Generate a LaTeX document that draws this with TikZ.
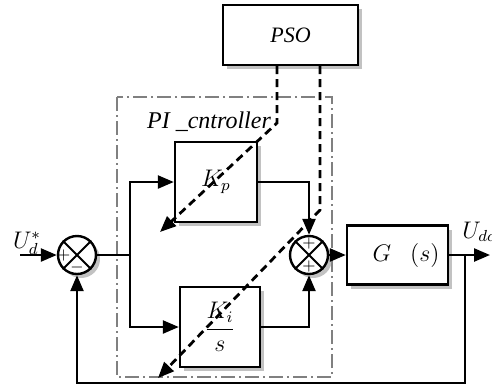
\documentclass[tikz,border=0pt]{standalone}
\usepackage{amsmath}
\usepackage{fontspec}
\setmainfont{Liberation Serif}
\usetikzlibrary{arrows.meta,positioning,shadows,calc}

\begin{document}
\begin{tikzpicture}[
    x=0.5pt, y=-0.5pt,
    block/.style={draw, line width=1.2pt, fill=white, minimum width=#1, drop shadow={shadow xshift=2pt, shadow yshift=-2pt, fill=gray!80, opacity=0.6}},
    block/.default=40pt,
    summer/.style={draw, circle, line width=1.2pt, fill=white, minimum size=19pt, inner sep=0pt, drop shadow={shadow xshift=2pt, shadow yshift=-2pt, fill=gray!80, opacity=0.6}},
    sign/.style={font=\footnotesize, inner sep=0pt},
    arrow/.style={-{Triangle[length=8pt, width=6.5pt]}, line width=1.2pt},
    ctrl/.style={-{Triangle[length=8pt, width=6.5pt]}, line width=1.4pt, dash pattern=on 4pt off 2.5pt},
    frame/.style={gray, line width=0.8pt, dash pattern=on 7pt off 2pt on 1pt off 2pt},
]
\useasboundingbox (0,0) rectangle (492,387);

% controller frame
\draw[frame] (117,97) rectangle (332,377);
\node[font=\large\itshape] (lbl) at (209,122) {PI \_cntroller};

\node[block=67.5pt, minimum height=30pt, font=\fontsize{11}{13}\selectfont\itshape] (pso) at (290.5,35) {PSO};
\node[block=41pt, minimum height=40pt] (kp) at (216,182) {\large $K_p$};
\node[block=40pt, minimum height=40pt] (ki) at (220,327) {\large $\dfrac{K_i}{s}$};
\node[block=50.5pt, minimum height=29.5pt, text width=42pt, align=right] (g) at (397.5,255) {\large $G\;\;(s)$};

\node[summer] (s1) at (77,255) {};
\node[summer] (s2) at (309,255) {};
\foreach \s in {s1,s2}
    \draw[line width=1pt] (\s.45) -- (\s.225) (\s.135) -- (\s.315);
\node[sign] at ([xshift=3.5pt]s1.west) {$+$};
\node[sign] at ([yshift=4pt]s1.south) {$-$};
\node[sign] at ([yshift=-4.5pt]s2.north) {$+$};
\node[sign] at ([yshift=4.5pt]s2.south) {$+$};

\coordinate (uin) at (20,255);
\coordinate (split) at (130,255);
\coordinate (out) at (465,255);
\coordinate (uout) at (490,255);
\coordinate (bot) at (0,383);
\node (ustar) at (27,243) {\large $U_d^*$};
\node[anchor=south west, inner sep=0pt] (udc) at (462,242) {\large $U_{dc}$};

\draw[arrow] (uin) -- (s1);
\draw[line width=1.2pt] (s1) -- (split);
\draw[arrow] (split) |- (kp.west);
\draw[arrow] (split) |- (ki.west);
\draw[arrow] (kp.east) -| (s2.north);
\draw[arrow] (ki.east) -| (s2.south);
\draw[arrow] (s2) -- (g);
\draw[line width=1.2pt] (g.east) -- (out);
\draw[arrow] (out) -- (uout);
\draw[arrow] (out) -- (out |- bot) -| (s1.south);

% tuning signals from PSO
\coordinate (b1) at (277,123);
\coordinate (t1) at (160,232);
\coordinate (b2) at (320,210);
\coordinate (t2) at (158,378);
\draw[ctrl] (pso.south -| b1) -- (b1) -- (t1);
\draw[ctrl] (pso.south -| b2) -- (b2) -- (t2);
\end{tikzpicture}
\end{document}
